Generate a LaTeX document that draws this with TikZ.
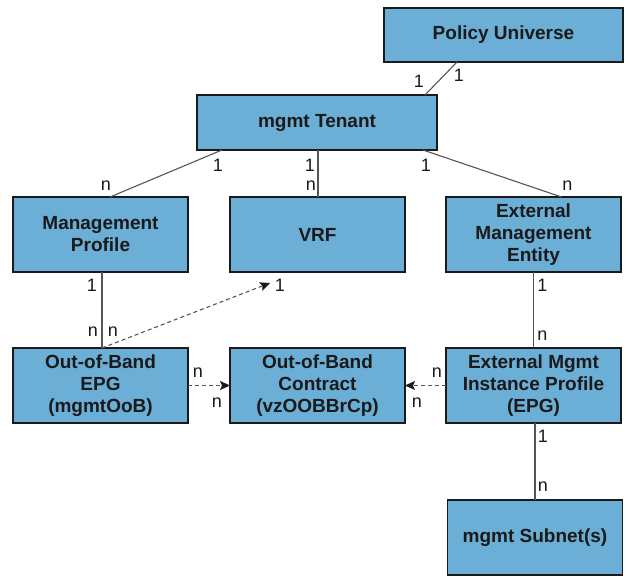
\documentclass[tikz,border=0pt]{standalone}
\usepackage{fontspec}
\setmainfont{Liberation Sans}
\usetikzlibrary{arrows.meta, positioning, calc}
\definecolor{MGblue}{HTML}{6BAED6}
\definecolor{MGink}{HTML}{1A1A1A}
\definecolor{MGline}{HTML}{555555}
\tikzset{
  mgbox/.style={
    rectangle, draw=MGink, line width=1.8pt, fill=MGblue, text=MGink,
    align=center, inner sep=2pt, outer sep=0pt, minimum width=175pt,
    minimum height=75pt, font=\fontsize{19}{22}\selectfont\bfseries},
  mgline/.style={line width=1.1pt, draw=MGline},
  mgdash/.style={-{Stealth[length=10pt,width=9pt,inset=2pt,color=MGink]},
    line width=1.1pt, draw=MGline, dash pattern=on 4pt off 3pt},
  mglbl/.style={font=\fontsize{18}{20}\selectfont, text=MGink, inner sep=0pt},
}

\begin{document}
\begin{tikzpicture}[x=1pt, y=1pt]
  \useasboundingbox (0,0) rectangle (630,576);
  \clip (0,0) rectangle (630,576);
  % top of the tree
  \node[mgbox, minimum width=239pt, minimum height=54pt] (policy) at (503.5,541) {Policy Universe};
  \node[mgbox, minimum width=240pt, minimum height=55pt] (tenant) at (317,453.5) {mgmt Tenant};
  % second row
  \node[mgbox] (vrf) at (317.5,341.5) {VRF};
  \node[mgbox, left=42pt of vrf] (mprof) {Management\\Profile};
  \node[mgbox, right=41pt of vrf] (extent) {External\\Management\\Entity};
  % third row
  \node[mgbox, below=76pt of mprof] (oobepg) {Out-of-Band\\EPG\\(mgmtOoB)};
  \node[mgbox, below=76pt of vrf] (contract) {Out-of-Band\\Contract\\(vzOOBBrCp)};
  \node[mgbox, below=76pt of extent] (extinst) {External Mgmt\\Instance Profile\\(EPG)};
  \node[mgbox, below=77pt of extinst, xshift=1.5pt] (subnet) {mgmt Subnet(s)};

  % containment
  \draw[mgline] ([xshift=-46.5pt]policy.south) -- ([xshift=108pt]tenant.north)
    node[mglbl, at start, xshift=2pt, yshift=-13pt]{1}
    node[mglbl, at end, xshift=-6pt, yshift=14pt]{1};
  \draw[mgline] ([xshift=-95pt]tenant.south) -- ([xshift=9.5pt]mprof.north)
    node[mglbl, at start, xshift=-4pt, yshift=-15pt]{1}
    node[mglbl, at end, xshift=-4pt, yshift=11pt]{n};
  \draw[mgline] ([xshift=1pt]tenant.south) -- ([xshift=1pt]tenant.south |- vrf.north)
    node[mglbl, at start, xshift=-8pt, yshift=-15pt]{1}
    node[mglbl, at end, xshift=-7pt, yshift=11pt]{n};
  \draw[mgline] ([xshift=106pt]tenant.south) -- ([xshift=28pt]extent.north)
    node[mglbl, at start, xshift=3pt, yshift=-15pt]{1}
    node[mglbl, at end, xshift=6pt, yshift=11pt]{n};
  \draw[mgline] ([xshift=1.5pt]mprof.south) -- ([xshift=1.5pt]oobepg.north)
    node[mglbl, at start, xshift=-10pt, yshift=-13pt]{1}
    node[mglbl, at end, xshift=-9pt, yshift=16pt]{n}
    node[mglbl, at end, xshift=11pt, yshift=16pt]{n};
  \draw[mgline] (extent.south) -- (extinst.north)
    node[mglbl, at start, xshift=9pt, yshift=-13pt]{1}
    node[mglbl, at end, xshift=9pt, yshift=12pt]{n};
  \draw[mgline] ([xshift=1.5pt]extinst.south) -- ([xshift=1.5pt]extinst.south |- subnet.north)
    node[mglbl, at start, xshift=8pt, yshift=-13pt]{1}
    node[mglbl, at end, xshift=8pt, yshift=13pt]{n};

  % relations
  \draw[mgdash] ([xshift=1.5pt]oobepg.north) -- ([xshift=40pt,yshift=-11pt]vrf.south west)
    node[mglbl, at end, xshift=10pt, yshift=-2pt]{1};
  \draw[mgdash] (oobepg.east) -- (contract.west)
    node[mglbl, at start, xshift=10pt, yshift=13pt]{n}
    node[mglbl, at end, xshift=-13pt, yshift=-17pt]{n};
  \draw[mgdash] (extinst.west) -- (contract.east)
    node[mglbl, at start, xshift=-9pt, yshift=13pt]{n}
    node[mglbl, at end, xshift=12pt, yshift=-17pt]{n};
\end{tikzpicture}
\end{document}
